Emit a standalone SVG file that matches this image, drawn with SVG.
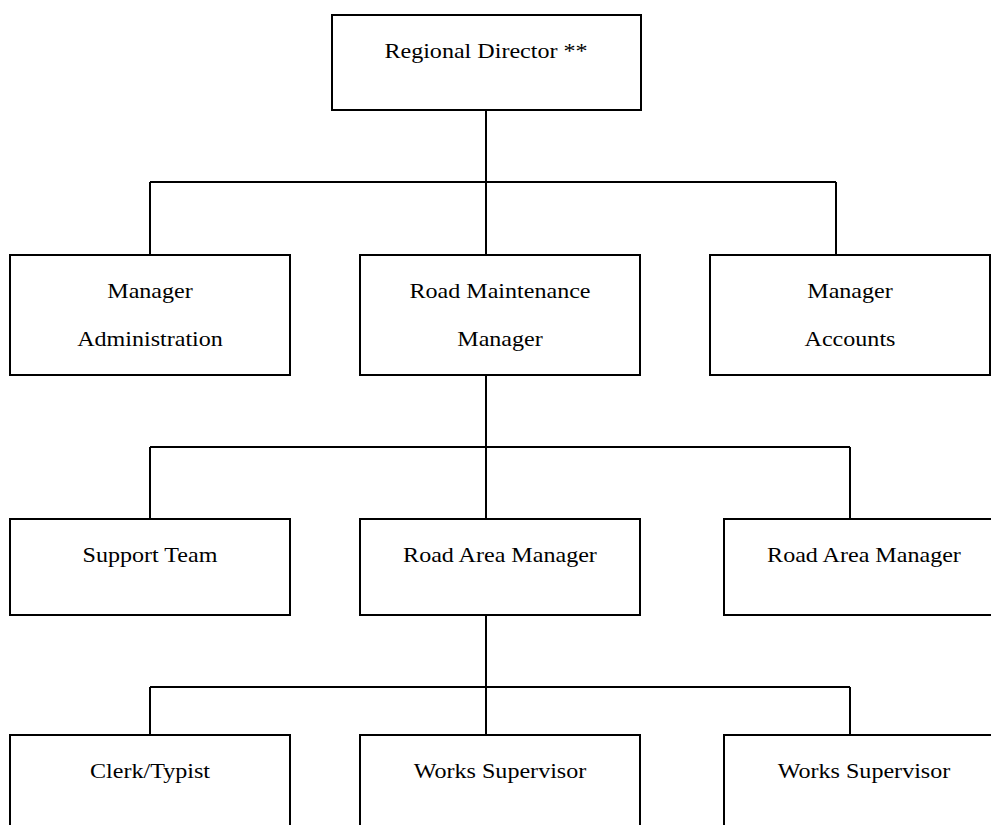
<svg xmlns="http://www.w3.org/2000/svg" width="991" height="825" viewBox="0 0 991 825">
  <style>
    .box { fill: #ffffff; stroke: #000000; stroke-width: 2; }
    .wire { fill: none; stroke: #000000; stroke-width: 2; }
    .lbl { font-family: "Liberation Serif", "Times New Roman", serif; font-size: 22px; fill: #000000; text-anchor: middle; }
  </style>
  <rect width="991" height="825" fill="#ffffff"/>

  <g id="connectors">
    <path class="wire" d="M486 110 V255 M150 182 H836 M150 182 V255 M836 182 V255"/>
    <path class="wire" d="M486 375 V519 M150 447 H850 M150 447 V519 M850 447 V519"/>
    <path class="wire" d="M486 615 V735 M150 687 H850 M150 687 V735 M850 687 V735"/>
  </g>

  <!-- labels use a slightly widened serif: translate to the anchor, then stretch x -->
  <g id="regional-director">
    <rect class="box" x="332" y="15" width="309" height="95"/>
    <text class="lbl" transform="translate(486 58) scale(1.095 1)">Regional Director **</text>
  </g>

  <g id="manager-administration">
    <rect class="box" x="10" y="255" width="280" height="120"/>
    <text class="lbl" transform="translate(150 298) scale(1.095 1)">Manager</text>
    <text class="lbl" transform="translate(150 346) scale(1.095 1)">Administration</text>
  </g>
  <g id="road-maintenance-manager">
    <rect class="box" x="360" y="255" width="280" height="120"/>
    <text class="lbl" transform="translate(500 298) scale(1.095 1)">Road Maintenance</text>
    <text class="lbl" transform="translate(500 346) scale(1.095 1)">Manager</text>
  </g>
  <g id="manager-accounts">
    <rect class="box" x="710" y="255" width="280" height="120"/>
    <text class="lbl" transform="translate(850 298) scale(1.095 1)">Manager</text>
    <text class="lbl" transform="translate(850 346) scale(1.095 1)">Accounts</text>
  </g>

  <g id="support-team">
    <rect class="box" x="10" y="519" width="280" height="96"/>
    <text class="lbl" transform="translate(150 562) scale(1.095 1)">Support Team</text>
  </g>
  <g id="road-area-manager-1">
    <rect class="box" x="360" y="519" width="280" height="96"/>
    <text class="lbl" transform="translate(500 562) scale(1.095 1)">Road Area Manager</text>
  </g>
  <g id="road-area-manager-2">
    <rect class="box" x="724" y="519" width="280" height="96"/>
    <text class="lbl" transform="translate(864 562) scale(1.095 1)">Road Area Manager</text>
  </g>

  <g id="clerk-typist">
    <rect class="box" x="10" y="735" width="280" height="110"/>
    <text class="lbl" transform="translate(150 778) scale(1.095 1)">Clerk/Typist</text>
  </g>
  <g id="works-supervisor-1">
    <rect class="box" x="360" y="735" width="280" height="110"/>
    <text class="lbl" transform="translate(500 778) scale(1.095 1)">Works Supervisor</text>
  </g>
  <g id="works-supervisor-2">
    <rect class="box" x="724" y="735" width="280" height="110"/>
    <text class="lbl" transform="translate(864 778) scale(1.095 1)">Works Supervisor</text>
  </g>
</svg>
